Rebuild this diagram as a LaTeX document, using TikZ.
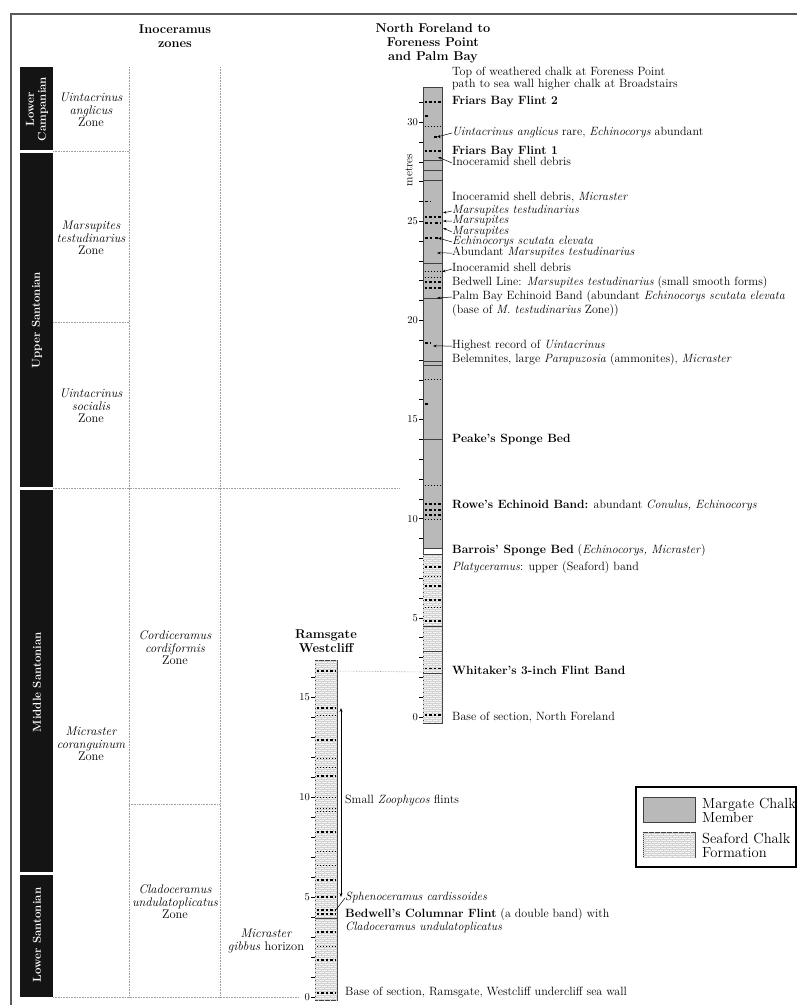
\documentclass[tikz,border=0pt]{standalone}
\usepackage{fontspec}
\usetikzlibrary{positioning,patterns,arrows.meta}

\pgfdeclarepatternformonly{chalkbricks}{\pgfqpoint{-0.5pt}{-0.5pt}}{\pgfqpoint{6.5pt}{4.5pt}}{\pgfqpoint{6pt}{4pt}}{
  \pgfsetlinewidth{0.35pt}
  \pgfpathmoveto{\pgfqpoint{0pt}{0pt}}\pgfpathlineto{\pgfqpoint{6pt}{0pt}}
  \pgfpathmoveto{\pgfqpoint{0pt}{2pt}}\pgfpathlineto{\pgfqpoint{6pt}{2pt}}
  \pgfpathmoveto{\pgfqpoint{0pt}{0pt}}\pgfpathlineto{\pgfqpoint{0pt}{2pt}}
  \pgfpathmoveto{\pgfqpoint{3pt}{2pt}}\pgfpathlineto{\pgfqpoint{3pt}{4pt}}
  \pgfusepath{stroke}}

\tikzset{
  stage/.style={fill=black!92},
  stagetext/.style={rotate=90,text=white,align=center,font=\bfseries\fontsize{11.5}{12}\selectfont},
  zone/.style={align=center,font=\itshape\fontsize{12.5}{12.5}\selectfont},
  head/.style={align=center,font=\bfseries\fontsize{12.8}{14}\selectfont},
  zsep/.style={gray!75,densely dotted,line width=0.6pt},
  bed/.style={anchor=west,inner sep=0pt,text height=7pt,text depth=2pt,font=\fontsize{12}{11}\selectfont},
  lead/.style={-{Stealth[length=3.5pt,width=2.5pt]},line width=0.5pt},
  margate/.style={fill=gray!55,draw=black!75,line width=0.6pt},
  seaford/.style={fill=gray!8,postaction={pattern=chalkbricks,pattern color=gray!35},draw=black!75,line width=0.6pt},
  flint/.style={line width=1.8pt,dash pattern=on 2.5pt off 2pt},
  flintlt/.style={line width=0.8pt,dash pattern=on 1.2pt off 1.8pt},
  bedding/.style={line width=0.6pt,black!75},
  mtick/.style={line width=0.5pt},
  ticklab/.style={anchor=east,inner sep=1pt,font=\fontsize{10.5}{11}\selectfont},
  legtext/.style={anchor=west,align=left,inner sep=0pt,font=\fontsize{14.6}{14}\selectfont},
}

\begin{document}
\begin{tikzpicture}[x=1pt,y=-1pt]
\useasboundingbox (0,0) rectangle (797,1005);
\draw[gray!70!black,line width=1.2pt] (11,1005) -- (11,14) -- (797,14);

% headings
\node[head] (hino) at (175,36) {Inoceramus\\zones};
\node[head] (hnf) at (433,43) {North Foreland to\\Foreness Point\\and Palm Bay};
\node[head] (hram) at (326,641) {Ramsgate\\Westcliff};

% stages
\fill[stage] (20,67) rectangle (53,150);
\fill[stage] (20,153) rectangle (53,487);
\fill[stage] (20,490) rectangle (53,872);
\fill[stage] (20,875) rectangle (53,997);
\node[stagetext] (slc) at (37,109) {Lower\\Campanian};
\node[stagetext] (sus) at (37,320) {Upper Santonian};
\node[stagetext] (sms) at (37,682) {Middle Santonian};
\node[stagetext] (sls) at (37,935) {Lower Santonian};

% zones
\draw[zsep] (129,67) -- (129,997);
\draw[zsep] (220,67) -- (220,997);
\draw[zsep] (53,151) -- (129,151);
\draw[zsep] (53,322) -- (129,322);
\draw[zsep] (53,488) -- (400,488);
\draw[zsep] (129,804) -- (220,804);
\draw[zsep] (53,997) -- (298,997);
\node[zone] (zua) at (91,110) {Uintacrinus\\anglicus\\\textup{Zone}};
\node[zone] (zmt) at (91,238) {Marsupites\\testudinarius\\\textup{Zone}};
\node[zone] (zus) at (91,406) {Uintacrinus\\socialis\\\textup{Zone}};
\node[zone] (zmc) at (91,744) {Micraster\\coranguinum\\\textup{Zone}};
\node[zone] (zcc) at (175,648) {Cordiceramus\\cordiformis\\\textup{Zone}};
\node[zone] (zcu) at (175,902) {Cladoceramus\\undulatoplicatus\\\textup{Zone}};
\node[zone] (zmg) at (266,941) {Micraster\\gibbus \textup{horizon}};

% North Foreland column
\begin{scope}[shift={(0,717)},y=19.83pt]
  \draw[margate] (423,8.3) rectangle (442,31.76);
  \draw[seaford] (423,-0.3) rectangle (442,8.3);
  \draw[bedding,fill=white] (423,8.2) rectangle (442,8.5);
  \foreach \m in {31.0,28.55,25.2,21.95,21.65,10.75,10.45,10.2,7.55,6.6,5.9,4.85,2.45,0.1}
    \draw[flint] (424.5,\m) -- (441.5,\m);
  \foreach \m in {29.8,22.45,22.15,17.05,11.7,9.95,7.1,5.55}
    \draw[flintlt] (424.5,\m) -- (441.5,\m);
  \foreach \m in {28.05,27.55,27.05,22.9,21.1,17.95,17.75,14.0,4.55,3.3,2.2}
    \draw[bedding] (423,\m) -- (442,\m);
  \foreach \a/\b/\m in {425/429/30.3,434/439/29.25,425/430/26.0,425/432/24.9,435/441/24.9,425/432/24.15,435/440/24.15,425/430/18.85,425/429/15.8}
    \draw[flint] (\a,\m) -- (\b,\m);
  \foreach \m in {0,...,31} \draw[mtick] (419,\m) -- (423,\m);
  \foreach \m in {0,5,...,30} \node[ticklab] at (419,\m) {\m};
  \coordinate (nfUa) at (437,29.25);
  \coordinate (nfIsa) at (438,28.24);
  \coordinate (nfMta) at (443,25.42);
  \coordinate (nfMa) at (443,25.01);
  \coordinate (nfMb) at (443,24.66);
  \coordinate (nfEse) at (438,24.16);
  \coordinate (nfAbM) at (437,23.4);
  \coordinate (nfIsb) at (442,22.45);
  \coordinate (nfPB) at (437,21.13);
  \coordinate (nfHU) at (433,18.71);
\end{scope}
\node[rotate=90,font=\fontsize{11.5}{11}\selectfont] (metres) at (409,170) {metres};

% North Foreland beds
\node[bed] (l1) at (452,73) {Top of weathered chalk at Foreness Point};
\node[bed] (l2) at (452,85) {path to sea wall higher chalk at Broadstairs};
\node[bed] (l3) at (452,102) {\textbf{Friars Bay Flint 2}};
\node[bed] (l4) at (452,133) {\textit{Uintacrinus anglicus} rare, \textit{Echinocorys} abundant};
\node[bed] (l5) at (452,152) {\textbf{Friars Bay Flint 1}};
\node[bed] (l6) at (452,163) {Inoceramid shell debris};
\node[bed] (l7) at (452,198) {Inoceramid shell debris, \textit{Micraster}};
\node[bed] (l8) at (452,211) {\textit{Marsupites testudinarius}};
\node[bed] (l9) at (452,221) {\textit{Marsupites}};
\node[bed] (l10) at (452,232) {\textit{Marsupites}};
\node[bed] (l11) at (452,242) {\textit{Echinocorys scutata elevata}};
\node[bed] (l12) at (452,253) {Abundant \textit{Marsupites testudinarius}};
\node[bed] (l13) at (452,269) {Inoceramid shell debris};
\node[bed] (l14) at (452,283) {Bedwell Line: \textit{Marsupites testudinarius} (small smooth forms)};
\node[bed] (l15) at (452,297) {Palm Bay Echinoid Band (abundant \textit{Echinocorys scutata elevata}};
\node[bed] (l16) at (452,311) {(base of \textit{M. testudinarius} Zone))};
\node[bed] (l17) at (452,346) {Highest record of \textit{Uintacrinus}};
\node[bed] (l18) at (452,360) {Belemnites, large \textit{Parapuzosia} (ammonites), \textit{Micraster}};
\node[bed] (l19) at (452,440) {\textbf{Peake's Sponge Bed}};
\node[bed] (l20) at (452,506) {\textbf{Rowe's Echinoid Band:} abundant \textit{Conulus, Echinocorys}};
\node[bed] (l21) at (452,551) {\textbf{Barrois' Sponge Bed} (\textit{Echinocorys, Micraster})};
\node[bed] (l22) at (452,568) {\textit{Platyceramus}: upper (Seaford) band};
\node[bed] (l23) at (452,672) {\textbf{Whitaker's 3-inch Flint Band}};
\node[bed] (l24) at (452,718) {Base of section, North Foreland};
\draw[lead] (l4.west) -- (nfUa);
\draw[lead] (l6.west) -- (nfIsa);
\draw[lead] (l8.west) -- (nfMta);
\draw[lead] (l9.west) -- (nfMa);
\draw[lead] (l10.west) -- (nfMb);
\draw[lead] (l11.west) -- (nfEse);
\draw[lead] (l12.west) -- (nfAbM);
\draw[lead] (l13.west) -- (nfIsb);
\draw[lead] (l15.west) -- (nfPB);
\draw[lead] (l17.west) -- (nfHU);

% Ramsgate column
\begin{scope}[shift={(0,997)},y=20pt]
  \draw[seaford] (315,-0.15) rectangle (337,16.85);
  \foreach \m in {16.3,14.45,12.85,11.05,8.25,5.85,5.0,4.35,4.15,3.25,1.85,0.2}
    \draw[flint] (316.5,\m) -- (335.5,\m);
  \foreach \m in {14.1,11.95,11.5,10.0,9.45,9.3,7.3,6.6,2.55}
    \draw[flintlt] (316.5,\m) -- (335.5,\m);
  \draw[bedding] (315,3.95) -- (337,3.95);
  \foreach \m in {0,...,16} \draw[mtick] (311,\m) -- (315,\m);
  \foreach \m in {0,5,10,15} \node[ticklab] at (311,\m) {\m};
  \coordinate (rTop) at (341,14.45);
  \coordinate (rBot) at (341,5.0);
  \coordinate (rSph) at (335,4.3);
  \coordinate (rWh) at (337,16.3);
\end{scope}
\draw[line width=0.7pt,{Stealth[length=4pt,width=3pt]}-{Stealth[length=4pt,width=3pt]}] (rBot) -- (rTop);
\draw[zsep] (rWh) -- (423,672);

\node[bed] (r1) at (345,801) {Small \textit{Zoophycos} flints};
\node[bed] (r2) at (345,898) {\textit{Sphenoceramus cardissoides}};
\node[bed] (r3) at (345,915) {\textbf{Bedwell's Columnar Flint} (a double band) with};
\node[bed] (r4) at (345,928) {\textit{Cladoceramus undulatoplicatus}};
\node[bed] (r5) at (345,993) {Base of section, Ramsgate, Westcliff undercliff sea wall};
\draw[line width=0.5pt] (r2.west) -- (rSph);

% legend
\draw[line width=1.4pt] (636,787) rectangle (796,867);
\draw[margate] (643,797) rectangle (695,822);
\draw[seaford] (643,832) rectangle (695,857);
\node[legtext] (lgm) at (702,810) {Margate Chalk\\Member};
\node[legtext] (lgs) at (702,845) {Seaford Chalk\\Formation};
\end{tikzpicture}
\end{document}
